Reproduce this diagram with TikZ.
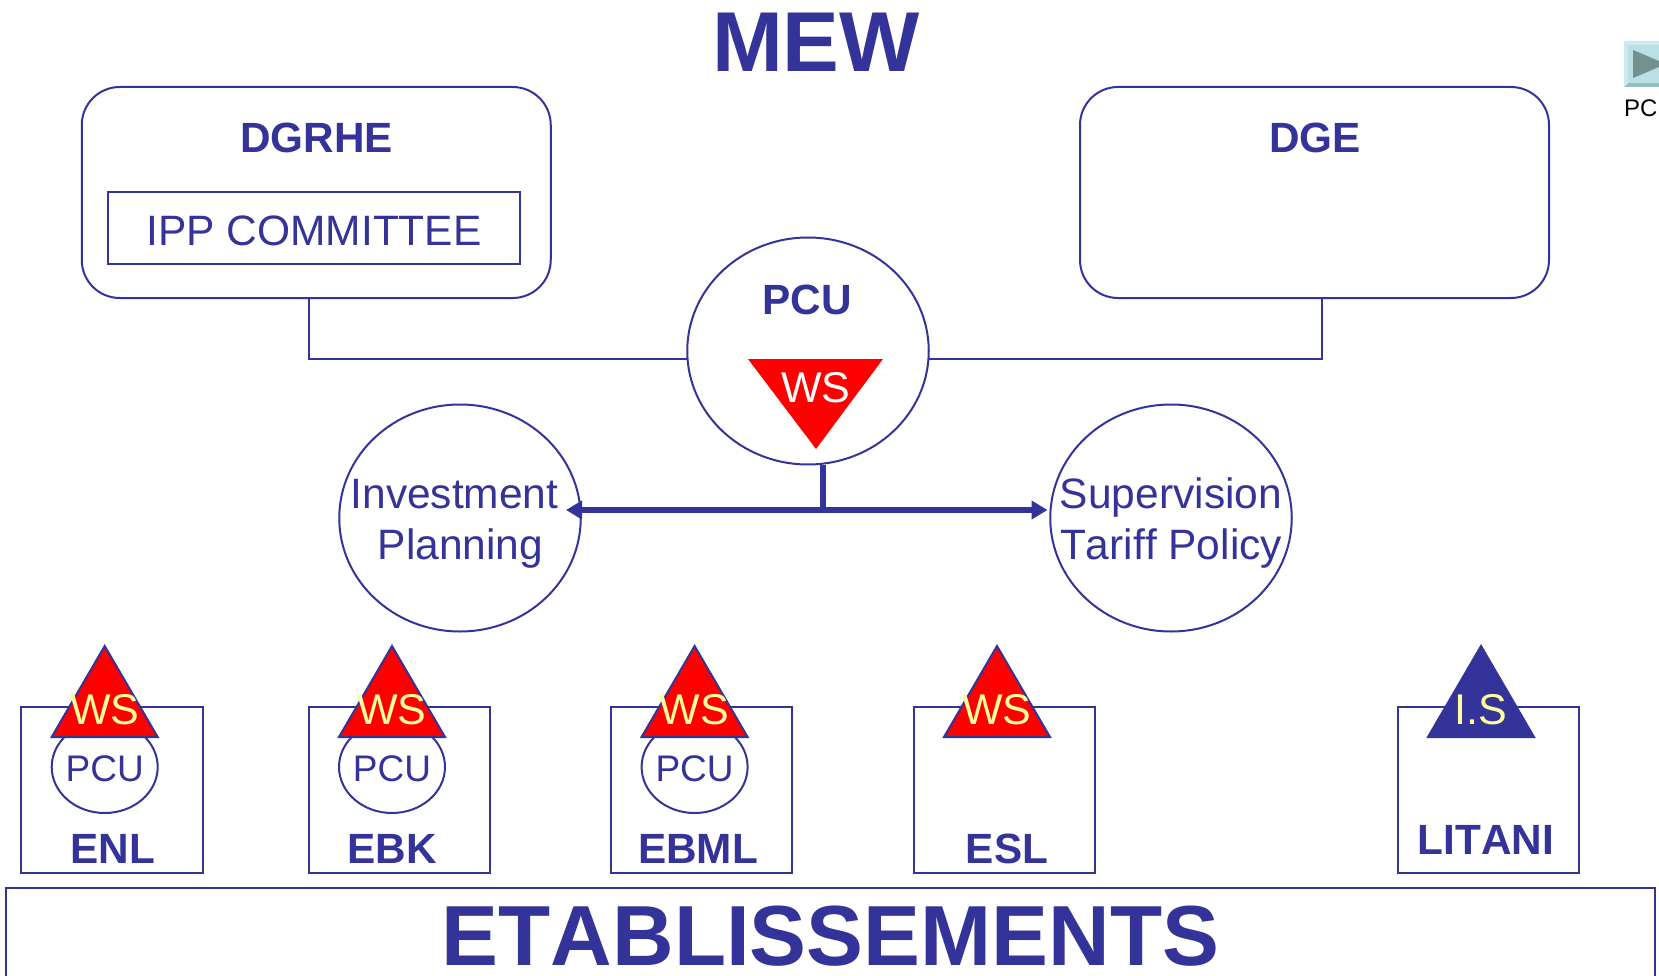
\documentclass[tikz,border=0pt]{standalone}
\usepackage{fontspec}
\setmainfont[Kerning=Off]{Liberation Sans}
\usetikzlibrary{shapes.geometric,arrows.meta}
\definecolor{navy}{HTML}{333399}
\definecolor{wsyellow}{HTML}{FFFF99}
\newcommand{\fs}[1]{\fontsize{#1}{#1}\selectfont}
\newcommand{\uptri}[2]{\draw[tri,fill=#2] (#1-53,737) -- (#1,646) -- (#1+53,737) -- cycle;}
\tikzset{
  x=1pt,y=-1pt,
  wire/.style={draw=navy,line width=2pt},
  thickwire/.style={draw=navy,line width=6.5pt},
  tri/.style={draw=navy,line width=2pt,line join=miter},
  lbl/.style={inner sep=0pt,outer sep=0pt,anchor=base,text=navy},
  bigbold/.style={lbl,font=\fs{85}\bfseries},
  boldlbl/.style={lbl,font=\fs{42.3}\bfseries},
  plainlbl/.style={lbl,font=\fs{42.5}},
  wstext/.style={inner sep=0pt,outer sep=0pt,anchor=base,font=\fs{43}},
  smallpcu/.style={lbl,font=\fs{37}},
  roundbox/.style={draw=navy,line width=2pt,rounded corners=38pt,minimum width=469pt,minimum height=211pt,inner sep=0pt,outer sep=0pt},
  circ/.style={ellipse,draw=navy,line width=2pt,fill=white,minimum width=241.5pt,minimum height=227pt,inner sep=0pt,outer sep=0pt},
  estbox/.style={draw=navy,line width=2pt,minimum width=181.5pt,minimum height=166.5pt,inner sep=0pt,outer sep=0pt},
  pcuell/.style={ellipse,draw=navy,line width=2pt,minimum width=106pt,minimum height=92pt,inner sep=0pt,outer sep=0pt}
}
\begin{document}
\begin{tikzpicture}
\useasboundingbox (0,0) rectangle (1659,976);
\clip (0,0) rectangle (1659,976);
% top
\node[bigbold] (mew) at (816,72) {MEW};
\node[roundbox] (dgrhe) at (316.25,192.5) {};
\node[roundbox] (dge) at (1314.5,192.5) {};
\node[boldlbl] (dgrhet) at (316.5,153) {DGRHE};
\node[boldlbl] (dget) at (1315,153) {DGE};
\node[draw=navy,line width=2pt,minimum width=412pt,minimum height=72pt,inner sep=0pt,outer sep=0pt] (ipp) at (314.25,228.5) {};
\node[plainlbl] (ippt) at (314,245.5) {IPP COMMITTEE};
% centre
\node[circ] (pcu) at (808,351) {};
\node[circ] (inv) at (460,518) {};
\node[circ] (sup) at (1171,518) {};
\node[boldlbl] (pcut) at (807,314) {PCU};
\fill[red] (748,359) -- (883,359) -- (816,449) -- cycle;
\node[wstext,text=white] (wscentre) at (816,402) {WS};
\node[plainlbl] (inv1) at (454.5,508.5) {Investment};
\node[plainlbl] (inv2) at (460.5,559.5) {Planning};
\node[plainlbl] (sup1) at (1171,508.5) {Supervision};
\node[plainlbl] (sup2) at (1171,559.5) {Tariff Policy};
% connectors
\draw[wire] ([xshift=-7pt]dgrhe.south) |- ([yshift=-8pt]pcu.west);
\draw[wire] ([xshift=7pt]dge.south) |- ([yshift=-8pt]pcu.east);
\coordinate (junc) at (823,510);
\coordinate (al) at (566,510);
\coordinate (ar) at (1047.5,510);
\draw[thickwire] (pcu.south -| junc) -- (junc);
\draw[thickwire,{Triangle[length=16pt,width=18pt]}-{Triangle[length=16pt,width=18pt]}] (al) -- (ar);
% establishments
\node[estbox] (b1) at (112,790) {};
\node[estbox] (b2) at (399.5,790) {};
\node[estbox] (b3) at (701.5,790) {};
\node[estbox] (b4) at (1004.5,790) {};
\node[estbox] (b5) at (1488.5,790) {};
\node[pcuell] (p1) at (104.7,767) {};
\node[pcuell] (p2) at (392,767) {};
\node[pcuell] (p3) at (694.6,767) {};
\uptri{104.7}{red}
\uptri{392}{red}
\uptri{694.6}{red}
\uptri{997}{red}
\uptri{1481}{navy}
\node[wstext,text=wsyellow] (w1) at (104.7,724.5) {WS};
\node[wstext,text=wsyellow] (w2) at (392,724.5) {WS};
\node[wstext,text=wsyellow] (w3) at (694.6,724.5) {WS};
\node[wstext,text=wsyellow] (w4) at (997,724.5) {WS};
\node[wstext,text=wsyellow] (w5) at (1480.5,724.5) {I.S};
\node[smallpcu] (pt1) at (104.7,781) {PCU};
\node[smallpcu] (pt2) at (392,781) {PCU};
\node[smallpcu] (pt3) at (694.6,781) {PCU};
\node[boldlbl] (n1) at (113,863) {ENL};
\node[boldlbl] (n2) at (392,863) {EBK};
\node[boldlbl] (n3) at (698,863) {EBML};
\node[boldlbl] (n4) at (1007,863) {ESL};
\node[boldlbl] (n5) at (1486,854) {LITANI};
% bottom band
\draw[wire] (6,990) -- (6,888) -- (1655,888) -- (1655,990);
\node[bigbold,font=\fs{85.3}\bfseries] (etab) at (830.5,965) {ETABLISSEMENTS};
% button
\fill[fill={rgb,255:red,147;green,191;blue,194}] (1624,87) -- (1628,83) -- (1670,83) -- (1670,87) -- cycle;
\fill[fill={rgb,255:red,205;green,235;blue,237}] (1624,41) -- (1670,41) -- (1670,45) -- (1628,45) -- (1628,83) -- (1624,87) -- cycle;
\fill[fill={rgb,255:red,186;green,224;blue,227}] (1628,45) rectangle (1670,83);
\fill[fill={rgb,255:red,115;green,145;blue,143}] (1633,50) -- (1633,78) -- (1666,64) -- cycle;
\node[inner sep=0pt,outer sep=0pt,anchor=base west,font=\fs{24}] (btn) at (1624,117) {PCU};
\end{tikzpicture}
\end{document}
